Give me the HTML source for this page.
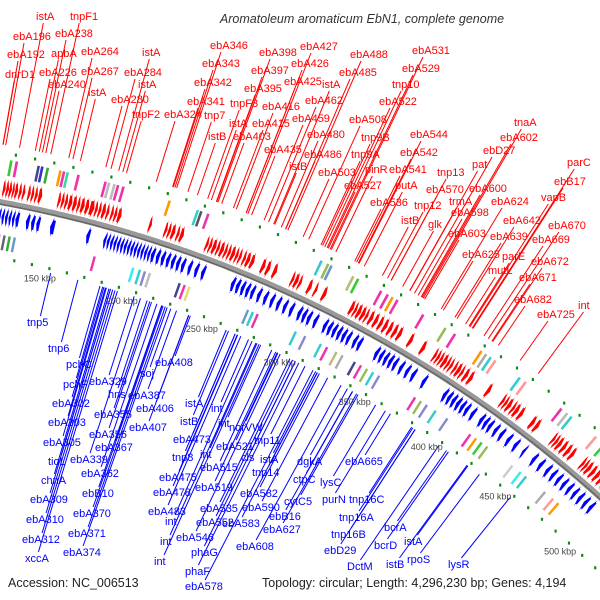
<!DOCTYPE html>
<html><head><meta charset="utf-8"><style>
html,body{margin:0;padding:0;background:#fff;}
svg{display:block;font-family:"Liberation Sans",sans-serif;}
</style></head><body>
<svg id="chart" width="600" height="600" viewBox="0 0 600 600" xmlns="http://www.w3.org/2000/svg">
<text x="362" y="23" text-anchor="middle" font-size="12.5" font-style="italic" fill="#333">Aromatoleum aromaticum EbN1, complete genome</text>
<g id="layer"></g>
<text x="8" y="587" font-size="12.5" fill="#222">Accession: NC_006513</text>
<text x="262" y="587" font-size="12.5" fill="#222">Topology: circular; Length: 4,296,230 bp; Genes: 4,194</text>
</svg>
<script>
// ---- data ----
const redGenes=[[119,120.5],[120.8,122.3],[122.5,124],[124.3,125.5],[125.8,127.5],[128,129.5],[130,131.5],[133,134.5],[135,136.5],[137,138.5],[139,141],[150,151.5],[152,153.5],[154,155.5],[156,158],[158.5,160.5],[161,162.5],[163,165],[165.5,167.5],[168,170.5],[171,172.5],[173,174.5],[175,177],[177.5,179],[180,181.5],[182,183.5],[184,186],[202,203.5],[211,212.5],[213,214.5],[215,217],[218,219.5],[220,222],[235,236.5],[237,238.5],[239,241],[241.5,243],[243.5,245.5],[246,247.5],[248,249.5],[250,252],[252.5,254],[254.5,256],[257,258.5],[259,261],[261.5,263.5],[268,270],[271,273],[275,277],[286,287.5],[288,290],[290.5,292],[296,298],[300,301.5],[305,307],[322,324],[324.5,326],[326.5,328.5],[329,331],[331.5,333],[334,336],[337,339],[340,342],[343,345],[346,348],[349,351],[352,354],[359,361],[367,369],[375,376.5],[377,378.5],[379,380.5],[381,383],[383.5,385],[385.5,387],[388,389.5],[390,392],[392.5,394],[395,397],[398,400],[410,412],[420,421.5],[422,423.5],[424,426],[427,428.5],[429,431],[432,434],[440,442],[443,445],[455,456.5],[457,458.5],[459,461],[462,464],[465,467],[468,470],[476,477.5],[478,479.5],[480,482],[483,485],[486,488],[489,491],[492,494],[495,497],[498,500],[501,503],[504,506]];
const blueGenes=[[119,120.5],[121,122.5],[123,124.5],[125,126.5],[127,128.5],[129,131],[135,137],[138,140],[141,143],[149,151.5],[170,172],[180,181.5],[182,183.5],[184,185.5],[186,187.5],[188,189.5],[190,191.5],[192,193.5],[194,195.5],[196,197.5],[198,199.5],[200,201.5],[202,203.5],[204,205.5],[206,207.5],[208,210],[211,213],[214,216],[217,219],[220,222],[223,225],[226,228],[230,232],[234,236],[238,240],[256,258],[259,261],[262,264],[265,267],[268,270],[272,274],[276,278],[280,282],[284,286],[288,290],[292,294],[297,299],[300,302],[303,305],[307,309],[313,315],[316,318],[319,321],[322,324],[325,327],[328,330],[332,334],[335,337],[346,348],[349,351],[352,354],[355,357],[358,360],[362,364],[366,368],[370,372],[377,379],[391,393],[394,396],[397,399],[400,402],[403,405],[406,408],[410,412],[416,418],[419,421],[422,424],[426,428],[430,432],[435,437],[440,442],[446,447.5],[453,455],[458,460],[463,465],[467,469],[471,473],[475,477],[479,481],[483,485],[487,489],[491,493],[495,497]];
const outerFeat=[[120,'#3c3'],[123,'#e3a'],[135,'#448'],[137,'#33c'],[140,'#3a3'],[147,'#f90'],[149,'#e3a'],[151,'#3d9'],[157,'#e3a'],[172,'#e3a'],[174,'#bbb'],[177,'#bbb'],[179,'#e3a'],[182,'#e3a'],[208,'#f90'],[224,'#3cc'],[226,'#555'],[230,'#e3a'],[296,'#3cc'],[300,'#9b5'],[302,'#69c'],[315,'#bb7'],[318,'#3c3'],[332,'#e3a'],[336,'#e3a'],[339,'#f90'],[342,'#e3a'],[358,'#e3a'],[372,'#9b5'],[378,'#e3a'],[395,'#f90'],[398,'#aaa'],[401,'#3cc'],[404,'#f99'],[420,'#3cc'],[424,'#f99'],[448,'#e3a'],[452,'#bbb'],[455,'#3cc'],[472,'#f99'],[478,'#3c3'],[490,'#3cc'],[496,'#f99']];
const innerFeat=[[121,'#e3a'],[124,'#666'],[127,'#3a3'],[130,'#69c'],[177,'#e3a'],[200,'#3ee'],[204,'#3cc'],[207,'#88c'],[210,'#bbb'],[228,'#448'],[231,'#e3a'],[234,'#dd7'],[270,'#69c'],[273,'#3cc'],[276,'#e3a'],[300,'#3cc'],[306,'#88c'],[316,'#3cc'],[320,'#e3a'],[326,'#bb7'],[330,'#aaa'],[338,'#448'],[342,'#e3a'],[346,'#9b5'],[350,'#3cc'],[354,'#88c'],[378,'#e3a'],[382,'#9b5'],[386,'#88c'],[392,'#3cc'],[400,'#88c'],[416,'#e3a'],[420,'#f90'],[424,'#3c3'],[428,'#9b5'],[446,'#ccc'],[452,'#3ee'],[456,'#3cc'],[470,'#aaa'],[476,'#f99'],[480,'#f90']];
const tickKbp=[150,200,250,300,350,400,450,500];
const tickLabels=['150 kbp','200 kbp','250 kbp','300 kbp','350 kbp','400 kbp','450 kbp','500 kbp'];
const redLabels=[['istA',36,20],['tnpF1',70,20],['ebA196',13,40],['ebA238',55,37],['ebA192',7,58],['apbA',51,57],['ebA264',81,55],['dnrD1',5,78],['ebA226',39,76],['ebA267',81,75],['ebA240',48,88],['istA',88,96],['istA',142,56],['ebA284',124,76],['istA',138,88],['ebA280',111,103],['tnpF2',132,118],['ebA324',164,118],['tnp7',204,119],['istB',208,140],['ebA346',210,49],['ebA343',202,67],['ebA342',194,86],['ebA341',187,105],['tnpF3',230,107],['istA',229,127],['ebA415',252,127],['ebA403',233,140],['ebA398',259,56],['ebA397',251,74],['ebA395',244,92],['ebA416',262,110],['ebA435',264,153],['ebA427',300,50],['ebA426',291,67],['ebA425',284,85],['istA',322,88],['ebA462',305,104],['ebA459',292,122],['ebA480',307,138],['ebA486',304,158],['istB',289,170],['ebA488',350,58],['ebA485',339,76],['ebA508',349,123],['tnp9B',361,141],['tnp9A',351,158],['ebA503',318,176],['pinR',365,173],['ebA527',344,189],['ebA531',412,54],['ebA529',402,72],['tnp10',392,88],['ebA522',379,105],['ebA544',410,138],['ebA542',400,156],['ebA541',389,173],['putA',395,189],['ebA536',370,206],['tnp13',437,176],['ebA570',426,193],['pat',472,168],['ebA600',469,192],['ebD27',483,154],['ebA602',500,141],['tnaA',514,126],['trmA',449,205],['ebA598',451,216],['tnp12',414,209],['istB',401,224],['glk',428,228],['ebA603',448,237],['ebA624',491,205],['ebA625',462,258],['ebA642',503,224],['ebA639',490,240],['parC',567,166],['ebB17',554,185],['vapB',541,201],['ebA670',548,229],['ebA669',532,243],['parE',502,260],['mutL',488,274],['ebA672',531,265],['ebA671',519,281],['ebA682',514,303],['ebA725',537,318],['int',578,309]];
const blueLabels=[['tnp5',27,326],['tnp6',48,352],['pchC',66,368],['pchF',63,388],['ebA302',52,407],['ebA303',48,426],['ebA305',43,446],['tioL',48,465],['chnA',41,484],['ebA309',30,503],['ebA310',26,523],['ebA312',22,543],['xccA',25,562],['ebA329',89,385],['hns',108,398],['ebA387',128,399],['ebA355',94,418],['ebA356',89,438],['ebA367',95,451],['ebA339',70,463],['ebA362',81,477],['ebB10',82,497],['ebA370',73,517],['ebA371',68,537],['ebA374',63,556],['soj',140,377],['ebA408',155,366],['ebA406',136,412],['ebA407',129,431],['istA',185,407],['istB',180,425],['ebA473',173,443],['int',211,412],['int',218,427],['tnp8',172,461],['int',200,458],['ebA475',159,481],['ebA515',200,471],['ebA478',153,496],['ebA519',195,491],['ebA483',148,515],['ebA535',200,512],['int',165,525],['ebA552',196,526],['int',160,545],['ebA546',176,541],['int',154,565],['phaG',191,556],['phaF',185,575],['ebA578',185,590],['norVW',229,431],['ebA521',216,450],['tnp11',254,444],['cls',241,461],['istA',260,463],['tnp14',252,476],['ebA582',240,497],['ebA590',242,511],['ebA583',222,527],['ebA608',236,550],['dgkA',297,465],['ctpC',293,483],['cytC5',284,505],['ebB16',269,520],['ebA627',263,533],['lysC',320,486],['purN',322,503],['ebA665',345,465],['tnp16C',349,503],['tnp16A',339,521],['tnp16B',331,538],['ebD29',324,554],['DctM',347,570],['bcrA',384,531],['bcrD',374,549],['istA',404,545],['istB',386,568],['rpoS',407,563],['lysR',448,568]];

// ---- geometry ----
const CX=-221,CY=1409,R=1227;
const NS='http://www.w3.org/2000/svg';
const layer=document.getElementById('layer');
function ang(k){return(-77+(k-150)*0.0838)*Math.PI/180;}
function pt(k,r){const a=ang(k);return[CX+r*Math.cos(a),CY+r*Math.sin(a)];}
function kOf(x,y){const a=Math.atan2(y-CY,x-CX)*180/Math.PI;return 150+(a+77)/0.0838;}
function mk(tag,attrs){const e=document.createElementNS(NS,tag);for(const k in attrs)e.setAttribute(k,attrs[k]);layer.appendChild(e);return e;}
function P(a){return a.map(p=>p[0].toFixed(1)+','+p[1].toFixed(1)).join(' ');}

function drawLabels(list,color,rRing,isRed,nm){
  list.forEach(l=>{
    const w=l[0].length*6.1;
    const ax=isRed?l[1]+w*0.3:l[1]+w*0.55, ay=isRed?l[2]+3:l[2]-10;
    const k=kOf(ax,ay);const p=pt(k,rRing);
    const ln=mk('line',{x1:p[0].toFixed(1),y1:p[1].toFixed(1),x2:ax.toFixed(1),y2:ay.toFixed(1),stroke:color,'stroke-width':1});
    
    
    const t=mk('text',{x:l[1],y:l[2],'font-size':11,fill:color});
    t.textContent=l[0];
    
    
  });
}
drawLabels(redLabels,'#f00',1284,true,'forward');
drawLabels(blueLabels,'#00f',1168,false,'reverse');

let d='';for(let k=100;k<=560;k+=2){const p=pt(k,R);d+=(k==100?'M':'L')+p[0].toFixed(1)+' '+p[1].toFixed(1);}
const bb=mk('path',{d:d,fill:'none',stroke:'#999','stroke-width':6});


const bb2=mk('path',{d:d,fill:'none',stroke:'#666','stroke-width':1.5,transform:'translate(0,2)'});



function arrow(s,e,r0,r1,fwd,color,nm){
  const h=Math.min(1.3,(e-s)*0.8), m=(r0+r1)/2, i=(r1-r0)*0.15;
  let pts;
  if(fwd){pts=[pt(s,r0+i),pt(e-h,r0+i),pt(e-h,r0),pt(e,m),pt(e-h,r1),pt(e-h,r1-i),pt(s,r1-i)];}
  else{pts=[pt(e,r0+i),pt(s+h,r0+i),pt(s+h,r0),pt(s,m),pt(s+h,r1),pt(s+h,r1-i),pt(e,r1-i)];}
  const g=mk('polygon',{points:P(pts),fill:color});
  
  
}
redGenes.forEach(g=>arrow(g[0],g[1],1231,1251,true,'#f00','forward-gene-arrow'));
blueGenes.forEach(g=>arrow(g[0],g[1],1203,1223,false,'#00f','reverse-gene-arrow'));

function box(k,r0,r1,color,nm){
  const b=mk('polygon',{points:P([pt(k,r0),pt(k+1.4,r0),pt(k+1.4,r1),pt(k,r1)]),fill:color});
  
  
}
outerFeat.forEach(f=>box(f[0],1254,1270,f[1],'outer-feature-box'));
innerFeat.forEach(f=>box(f[0],1180,1195,f[1],'inner-feature-box'));

for(let k=112;k<=560;k+=10.5){
  [1276,1172].forEach(r=>{
    const p=pt(k,r);
    const dd=mk('rect',{x:(p[0]-1).toFixed(1),y:(p[1]-1.5).toFixed(1),width:2.2,height:3,fill:'#181'});
    
    
  });
}

tickKbp.forEach((k,i)=>{
  const p=pt(k,1160);
  const t=mk('text',{x:p[0].toFixed(1),y:(p[1]+3).toFixed(1),'font-size':9,fill:'#444','text-anchor':'middle'});
  t.textContent=tickLabels[i];
  
  
});
</script>
</body></html>
